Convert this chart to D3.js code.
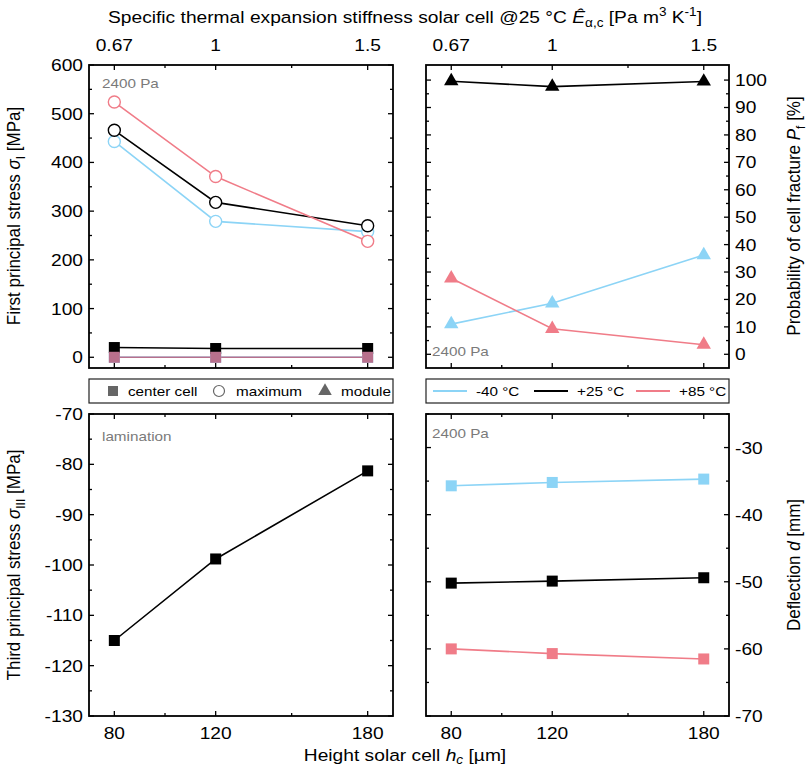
<!DOCTYPE html>
<html><head><meta charset="utf-8">
<script src="https://cdn.jsdelivr.net/npm/d3@7"></script>
<style>body{margin:0;background:#fff}svg{display:block;font-family:"Liberation Sans",Arial,sans-serif}</style>
</head><body><svg id="c" width="807" height="768"></svg>
<script>
// ---- data ----
const hc = [80, 120, 180];                       // height solar cell [µm]
const eHatLabels = ["0.67", "1", "1.5"];          // top axis labels
const temps = ["-40 °C", "+25 °C", "+85 °C"];
const tempColors = ["#8cd4f6", "#000000", "#f07c88"];
const centerColors = ["#8cd4f6", "#000000", "#b8708c"];
const centerCellStress = [[0, 0, 0], [20, 18, 18], [0, 0, 0]];
const maxStress = [[443, 279, 258], [466, 318, 270], [524, 371, 238]];
const fractureProb = [[11, 18.6, 36.2], [99.6, 97.6, 99.5], [27.7, 9.3, 3.5]];
const laminationStress = [-115, -98.8, -81.3];
const deflection = [[-35.7, -35.2, -34.7], [-50.2, -49.9, -49.4], [-60, -60.7, -61.5]];

const svg = d3.select("#c");
const FS = 17;
const SX = 1.13;               // horizontal stretch of horizontal text
const gray = "#7a7a7a";

function htext(parent, x, y, anchor, size) {
  return parent.append("g").attr("transform", `translate(${x},${y}) scale(${SX},1)`)
    .append("text").attr("x", 0).attr("y", 0).attr("text-anchor", anchor || "start")
    .attr("font-size", size || FS);
}

function panel(x0, x1, y0, y1, yDomain, yMajor, yMinor, side) {
  const g = svg.append("g");
  const x = d3.scaleLinear().domain([70, 190]).range([x0, x1]);
  const y = d3.scaleLinear().domain(yDomain).range([y1, y0]);
  const tl = 5, tm = 3;
  const addTicks = (vals, len, edge) => {
    vals.forEach(v => {
      if (edge === "left" || edge === "right") {
        const px = edge === "left" ? x0 : x1, d = edge === "left" ? len : -len;
        g.append("line").attr("x1", px).attr("x2", px + d).attr("y1", y(v)).attr("y2", y(v))
          .attr("stroke", "#000").attr("stroke-width", 1.3);
      } else {
        const py = edge === "top" ? y0 : y1, d = edge === "top" ? len : -len;
        g.append("line").attr("y1", py).attr("y2", py + d).attr("x1", x(v)).attr("x2", x(v))
          .attr("stroke", "#000").attr("stroke-width", 1.3);
      }
    });
  };
  ["left", "right"].forEach(e => { addTicks(yMajor, tl, e); addTicks(yMinor, tm, e); });
  ["top", "bottom"].forEach(e => { addTicks(hc, tl, e); addTicks([100, 150], tm, e); });
  g.append("rect").attr("x", x0).attr("y", y0).attr("width", x1 - x0).attr("height", y1 - y0)
    .attr("fill", "none").attr("stroke", "#000").attr("stroke-width", 1.8);
  yMajor.forEach(v => {
    htext(g, side === "left" ? x0 - 6 : x1 + 6, y(v), side === "left" ? "end" : "start")
      .attr("dy", "0.35em").text(v);
  });
  return { g, x, y };
}

function line(p, vals, color, w) {
  p.g.append("path").datum(vals)
    .attr("d", d3.line().x((d, i) => p.x(hc[i])).y(d => p.y(d)))
    .attr("fill", "none").attr("stroke", color).attr("stroke-width", w || 1.6);
}
function squares(p, vals, color, s) {
  s = s || 11;
  vals.forEach((v, i) => p.g.append("rect").attr("x", p.x(hc[i]) - s / 2).attr("y", p.y(v) - s / 2)
    .attr("width", s).attr("height", s).attr("fill", color));
}
function circles(p, vals, color) {
  vals.forEach((v, i) => p.g.append("circle").attr("cx", p.x(hc[i])).attr("cy", p.y(v)).attr("r", 6)
    .attr("fill", "#fff").attr("stroke", color).attr("stroke-width", 1.4));
}
const triPath = d3.symbol().type(d3.symbolTriangle).size(90);
function triangles(p, vals, color) {
  vals.forEach((v, i) => p.g.append("path").attr("d", triPath())
    .attr("transform", `translate(${p.x(hc[i])},${p.y(v)})`).attr("fill", color));
}
function note(p, px, py, txt) {
  htext(p.g, px, py, "start", 13.5).attr("dy", "0.35em").attr("fill", gray).text(txt);
}

// ---- panels ----
const rng = (a, b, s) => d3.range(a, b + 1e-9, s);
const TL = panel(89, 393, 65, 368, [-22, 600], rng(0, 600, 100), rng(50, 550, 100), "left");
const TR = panel(426, 729, 65, 368, [-5, 105.5], rng(0, 100, 10), rng(5, 95, 10), "right");
const BL = panel(89, 393, 414, 716, [-130, -70], rng(-130, -70, 10), rng(-125, -75, 10), "left");
const BR = panel(426, 729, 414, 716, [-70, -25], rng(-70, -30, 10), rng(-65, -25, 10), "right");

[0, 1, 2].forEach(k => { line(TL, centerCellStress[k], centerColors[k]); });
[0, 1, 2].forEach(k => { line(TL, maxStress[k], tempColors[k]); });
[0, 1, 2].forEach(k => { squares(TL, centerCellStress[k], centerColors[k]); });
[0, 1, 2].forEach(k => { circles(TL, maxStress[k], tempColors[k]); });
note(TL, 102, 83, "2400 Pa");

[0, 1, 2].forEach(k => line(TR, fractureProb[k], tempColors[k]));
[0, 1, 2].forEach(k => triangles(TR, fractureProb[k], tempColors[k]));
note(TR, 432, 351, "2400 Pa");

line(BL, laminationStress, "#000");
squares(BL, laminationStress, "#000");
note(BL, 102, 436, "lamination");

[0, 1, 2].forEach(k => line(BR, deflection[k], tempColors[k]));
[0, 1, 2].forEach(k => squares(BR, deflection[k], tempColors[k]));
note(BR, 432, 433, "2400 Pa");

[TL, TR].forEach(p => hc.forEach((v, i) => htext(svg, p.x(v), 51, "middle").text(eHatLabels[i])));
[BL, BR].forEach(p => hc.forEach(v => htext(svg, p.x(v), 739, "middle").text(v)));

const topTitle = htext(svg, 405, 23, "middle");
topTitle.append("tspan").text("Specific thermal expansion stiffness solar cell @25 °C ");
topTitle.append("tspan").attr("font-style", "italic").text("Ê");
topTitle.append("tspan").attr("font-size", 12).attr("dy", 4).text("α,c");
topTitle.append("tspan").attr("dy", -4).text(" [Pa m");
topTitle.append("tspan").attr("font-size", 12).attr("dy", -7).text("3");
topTitle.append("tspan").attr("dy", 7).text(" K");
topTitle.append("tspan").attr("font-size", 12).attr("dy", -7).text("-1");
topTitle.append("tspan").attr("dy", 7).text("]");

const botTitle = htext(svg, 405, 761, "middle");
botTitle.append("tspan").text("Height solar cell ");
botTitle.append("tspan").attr("font-style", "italic").text("h");
botTitle.append("tspan").attr("font-style", "italic").attr("font-size", 12).attr("dy", 3).text("c");
botTitle.append("tspan").attr("dy", -3).text(" [µm]");

function vtitle(cx, cy, parts) {
  const t = svg.append("text").attr("transform", `translate(${cx},${cy}) rotate(-90) scale(1,${SX})`)
    .attr("text-anchor", "middle").attr("font-size", FS);
  parts.forEach(p => {
    const s = t.append("tspan").text(p.t);
    if (p.i) s.attr("font-style", "italic");
    if (p.fs) s.attr("font-size", p.fs);
    if (p.dy) s.attr("dy", p.dy);
  });
}
vtitle(20, 216, [{ t: "First principal stress " }, { t: "σ", i: 1 }, { t: "I", fs: 12, dy: 4 }, { t: " [MPa]", dy: -4 }]);
vtitle(20, 565, [{ t: "Third principal stress " }, { t: "σ", i: 1 }, { t: "III", fs: 12, dy: 4 }, { t: " [MPa]", dy: -4 }]);
vtitle(800, 216, [{ t: "Probability of cell fracture " }, { t: "P", i: 1 }, { t: "f", fs: 12, dy: 4 }, { t: " [%]", dy: -4 }]);
vtitle(800, 565, [{ t: "Deflection " }, { t: "d", i: 1 }, { t: " [mm]" }]);

const lg1 = svg.append("g");
lg1.append("rect").attr("x", 89).attr("y", 379).attr("width", 304).attr("height", 24)
  .attr("fill", "#fff").attr("stroke", "#222").attr("stroke-width", 1.2);
const ly = 391;
const lgGray = "#666";
lg1.append("rect").attr("x", 108).attr("y", ly - 5).attr("width", 10).attr("height", 10).attr("fill", lgGray);
htext(lg1, 128, ly, "start", 13.5).attr("dy", "0.35em").text("center cell");
lg1.append("circle").attr("cx", 219).attr("cy", ly).attr("r", 5.5).attr("fill", "#fff").attr("stroke", lgGray).attr("stroke-width", 1.2);
htext(lg1, 236, ly, "start", 13.5).attr("dy", "0.35em").text("maximum");
lg1.append("path").attr("d", d3.symbol().type(d3.symbolTriangle).size(80)()).attr("transform", `translate(325,${ly})`).attr("fill", lgGray);
htext(lg1, 341, ly, "start", 13.5).attr("dy", "0.35em").text("module");

const lg2 = svg.append("g");
lg2.append("rect").attr("x", 426).attr("y", 379).attr("width", 303).attr("height", 24)
  .attr("fill", "#fff").attr("stroke", "#222").attr("stroke-width", 1.2);
const lx = [433, 534, 636];
temps.forEach((t, k) => {
  lg2.append("line").attr("x1", lx[k]).attr("x2", lx[k] + 34).attr("y1", ly).attr("y2", ly)
    .attr("stroke", tempColors[k]).attr("stroke-width", 2);
  htext(lg2, lx[k] + 43, ly, "start", 13.5).attr("dy", "0.35em").text(t);
});
</script>
</body></html>
